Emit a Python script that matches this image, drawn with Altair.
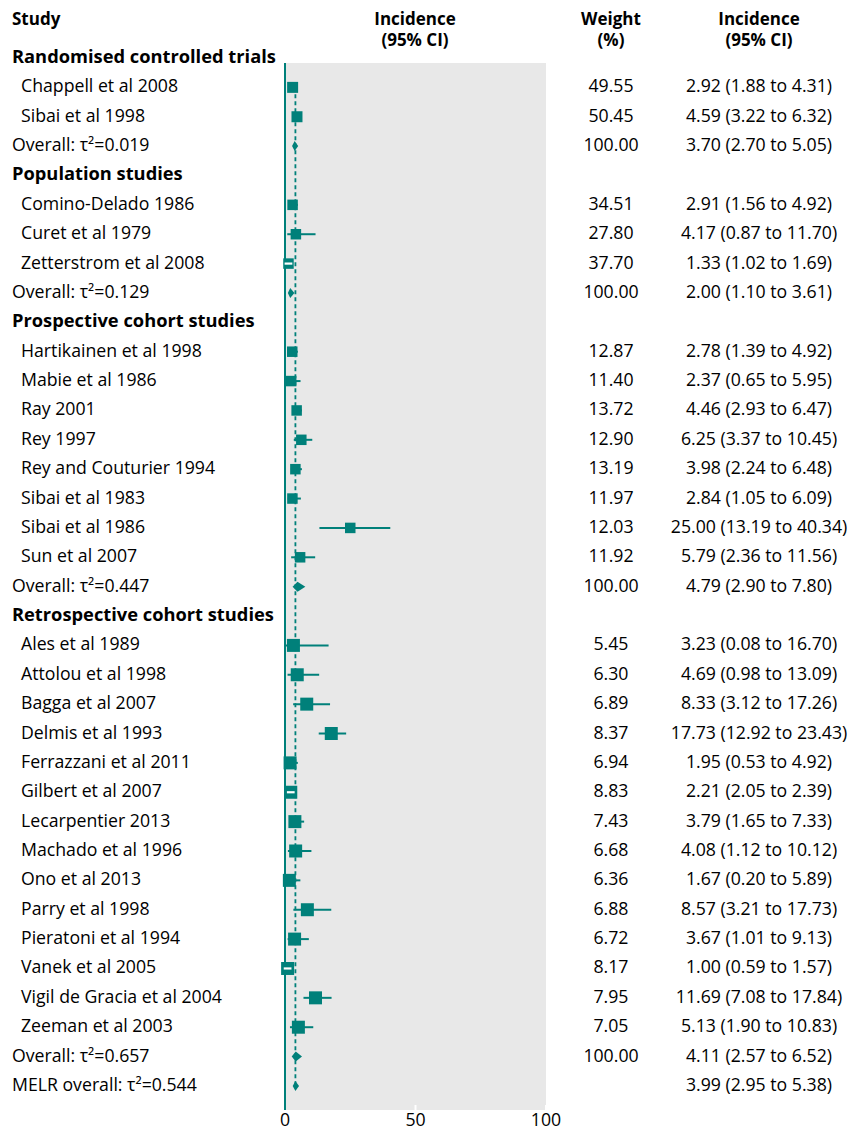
import altair as alt
import pandas as pd

# ---- data -------------------------------------------------------------
labels = [
    "Randomised controlled trials",
    "Chappell et al 2008", "Sibai et al 1998", "Overall: τ²=0.019",
    "Population studies",
    "Comino-Delado 1986", "Curet et al 1979", "Zetterstrom et al 2008", "Overall: τ²=0.129",
    "Prospective cohort studies",
    "Hartikainen et al 1998", "Mabie et al 1986", "Ray 2001", "Rey 1997",
    "Rey and Couturier 1994", "Sibai et al 1983", "Sibai et al 1986", "Sun et al 2007",
    "Overall: τ²=0.447",
    "Retrospective cohort studies",
    "Ales et al 1989", "Attolou et al 1998", "Bagga et al 2007", "Delmis et al 1993",
    "Ferrazzani et al 2011", "Gilbert et al 2007", "Lecarpentier 2013", "Machado et al 1996",
    "Ono et al 2013", "Parry et al 1998", "Pieratoni et al 1994", "Vanek et al 2005",
    "Vigil de Gracia et al 2004", "Zeeman et al 2003", "Overall: τ²=0.657",
    "MELR overall: τ²=0.544",
]
kinds = (["group"] + ["study"] * 2 + ["pooled"]
         + ["group"] + ["study"] * 3 + ["pooled"]
         + ["group"] + ["study"] * 8 + ["pooled"]
         + ["group"] + ["study"] * 14 + ["pooled", "pooled"])
weights = [
    None, 49.55, 50.45, 100.00,
    None, 34.51, 27.80, 37.70, 100.00,
    None, 12.87, 11.40, 13.72, 12.90, 13.19, 11.97, 12.03, 11.92, 100.00,
    None, 5.45, 6.30, 6.89, 8.37, 6.94, 8.83, 7.43, 6.68, 6.36, 6.88, 6.72, 8.17,
    7.95, 7.05, 100.00,
    None,
]
estimates = [
    None, 2.92, 4.59, 3.70,
    None, 2.91, 4.17, 1.33, 2.00,
    None, 2.78, 2.37, 4.46, 6.25, 3.98, 2.84, 25.00, 5.79, 4.79,
    None, 3.23, 4.69, 8.33, 17.73, 1.95, 2.21, 3.79, 4.08, 1.67, 8.57, 3.67, 1.00,
    11.69, 5.13, 4.11,
    3.99,
]
lower = [
    None, 1.88, 3.22, 2.70,
    None, 1.56, 0.87, 1.02, 1.10,
    None, 1.39, 0.65, 2.93, 3.37, 2.24, 1.05, 13.19, 2.36, 2.90,
    None, 0.08, 0.98, 3.12, 12.92, 0.53, 2.05, 1.65, 1.12, 0.20, 3.21, 1.01, 0.59,
    7.08, 1.90, 2.57,
    2.95,
]
upper = [
    None, 4.31, 6.32, 5.05,
    None, 4.92, 11.70, 1.69, 3.61,
    None, 4.92, 5.95, 6.47, 10.45, 6.48, 6.09, 40.34, 11.56, 7.80,
    None, 16.70, 13.09, 17.26, 23.43, 4.92, 2.39, 7.33, 10.12, 5.89, 17.73, 9.13, 1.57,
    17.84, 10.83, 6.52,
    5.38,
]
axis_ticks = [0, 50, 100]

# ---- styling ----------------------------------------------------------
TEAL = "#00807a"
PANEL = "#e8e8e8"
FONT = "Open Sans"
FS = 17.7
FS_HEAD = 17
FS_GROUP = 18.3
W, H = 854, 1133
ROW_PX, FIRST_ROW_PX = 29.37, 58
X0_PX, PX_PER_UNIT = 285, 2.61
PANEL_TOP, PANEL_BOTTOM = 63, 1110
SQUARE_SIDE = {             # marker side (px) per study design
    "Randomised controlled trials": 11,
    "Population studies": 10.5,
    "Prospective cohort studies": 10.5,
    "Retrospective cohort studies": 13,
}
DIAMOND_HALF = 5 / ROW_PX    # half-height of pooled diamonds, in rows
NARROW_CI = 1.5              # CIs narrower than this are drawn in white over the square

# ---- tables -----------------------------------------------------------
df = pd.DataFrame({"label": labels, "kind": kinds, "weight": weights,
                   "est": estimates, "lo": lower, "hi": upper})
df["row"] = range(len(df))
df["group"] = df["label"].where(df["kind"] == "group").ffill()
df["sq"] = df["group"].map(SQUARE_SIDE) ** 2
df["ci_text"] = df.apply(
    lambda r: "" if pd.isna(r.est) else f"{r.est:.2f} ({r.lo:.2f} to {r.hi:.2f})", axis=1)

studies = df[df.kind == "study"]
pooled = df[df.kind == "pooled"]
melr = pooled.iloc[-1]

diamonds = []
for _, r in pooled.iterrows():
    diamonds += [
        {"row": r.row, "x": r.lo, "y": r.row, "y2": r.row},
        {"row": r.row, "x": r.est, "y": r.row - DIAMOND_HALF, "y2": r.row + DIAMOND_HALF},
        {"row": r.row, "x": r.hi, "y": r.row, "y2": r.row},
    ]
diamonds = pd.DataFrame(diamonds)

ref_line = pd.DataFrame({"x": [melr.est], "y": [studies.row.min()], "y2": [melr.row]})
panel = pd.DataFrame({"x": [axis_ticks[0]], "x2": [axis_ticks[-1]]})
ticks = pd.DataFrame({"x": axis_ticks, "label": [str(t) for t in axis_ticks]})

xs = alt.Scale(domain=[-X0_PX / PX_PER_UNIT, (W - X0_PX) / PX_PER_UNIT], nice=False, zero=False)
ys = alt.Scale(domain=[-FIRST_ROW_PX / ROW_PX, (H - FIRST_ROW_PX) / ROW_PX],
               nice=False, zero=False, reverse=True)
X = lambda f: alt.X(f, scale=xs, axis=None)
Y = lambda f: alt.Y(f, scale=ys, axis=None)

# ---- layers -----------------------------------------------------------
bg = alt.Chart(panel).mark_rect(color=PANEL).encode(
    x=X("x:Q"), x2="x2:Q", y=alt.value(PANEL_TOP), y2=alt.value(PANEL_BOTTOM))

tick_marks = alt.Chart(ticks).mark_rule(color="white", strokeWidth=2).encode(
    x=X("x:Q"), y=alt.value(PANEL_BOTTOM - 5), y2=alt.value(PANEL_BOTTOM))

zero_line = alt.Chart(panel).mark_rule(color=TEAL, strokeWidth=2).encode(
    x=X("x:Q"), y=alt.value(PANEL_TOP), y2=alt.value(PANEL_BOTTOM))

dashed = alt.Chart(ref_line).mark_rule(color=TEAL, strokeWidth=1.8, strokeDash=[4, 3]).encode(
    x=X("x:Q"), y=Y("y:Q"), y2="y2:Q")

ci = alt.Chart(studies).mark_rule(color=TEAL, strokeWidth=2).encode(
    x=X("lo:Q"), x2="hi:Q", y=Y("row:Q"))

squares = alt.Chart(studies).mark_square(color=TEAL, opacity=1, filled=True).encode(
    x=X("est:Q"), y=Y("row:Q"), size=alt.Size("sq:Q", scale=None, legend=None))

narrow = alt.Chart(studies).transform_filter(
    f"datum.hi - datum.lo < {NARROW_CI}"
).mark_point(shape="M-1,0L1,0", filled=False, stroke="white", strokeWidth=2.2,
             opacity=1, size=60).encode(x=X("est:Q"), y=Y("row:Q"))

diamond = alt.Chart(diamonds).mark_area(color=TEAL, opacity=1, orient="vertical").encode(
    x=X("x:Q"), y=Y("y:Q"), y2="y2:Q", detail="row:N")

text_base = dict(font=FONT, color="black", baseline="middle")

tick_labels = alt.Chart(ticks).mark_text(align="center", fontSize=FS, **text_base).encode(
    x=X("x:Q"), y=alt.value(1121), text="label:N")

group_text = alt.Chart(df[df.kind == "group"]).mark_text(
    align="left", fontWeight="bold", fontSize=FS_GROUP, **text_base).encode(
    x=alt.value(12), y=Y("row:Q"), text="label:N")
pooled_text = alt.Chart(pooled).mark_text(align="left", fontSize=FS, **text_base).encode(
    x=alt.value(12), y=Y("row:Q"), text="label:N")
study_text = alt.Chart(studies).mark_text(align="left", fontSize=FS, **text_base).encode(
    x=alt.value(21), y=Y("row:Q"), text="label:N")

weight_text = alt.Chart(df[df.weight.notna()]).mark_text(
    align="center", fontSize=FS, **text_base).encode(
    x=alt.value(611), y=Y("row:Q"), text=alt.Text("weight:Q", format=".2f"))
ci_text = alt.Chart(df[df.est.notna()]).mark_text(
    align="center", fontSize=FS, **text_base).encode(
    x=alt.value(759), y=Y("row:Q"), text="ci_text:N")

# column headings
headers = pd.DataFrame({
    "text": ["Study", "Incidence", "(95% CI)", "Weight", "(%)", "Incidence", "(95% CI)"],
    "col": ["study", "plot", "plot", "weight", "weight", "ci", "ci"],
    "line": [0, 0, 1, 0, 1, 0, 1],
})
head_layers = []
for col, xpx, align in [("study", 12, "left"), ("plot", 415, "center"),
                        ("weight", 611, "center"), ("ci", 759, "center")]:
    for line, ypx in [(0, 20), (1, 41)]:
        sub = headers[(headers.col == col) & (headers.line == line)]
        if len(sub):
            head_layers.append(
                alt.Chart(sub).mark_text(align=align, fontWeight="bold", fontSize=FS_HEAD,
                                         **text_base).encode(
                    x=alt.value(xpx), y=alt.value(ypx), text="text:N"))

chart = alt.layer(
    bg, tick_marks, zero_line, dashed, ci, squares, narrow, diamond, tick_labels,
    group_text, pooled_text, study_text, weight_text, ci_text, *head_layers,
).properties(
    width=W, height=H,
    padding=0,
    autosize=alt.AutoSizeParams(type="none"),
    background="white",
).configure_view(stroke=None)

chart.save("out.html", embed_options={"renderer": "svg", "actions": False})
